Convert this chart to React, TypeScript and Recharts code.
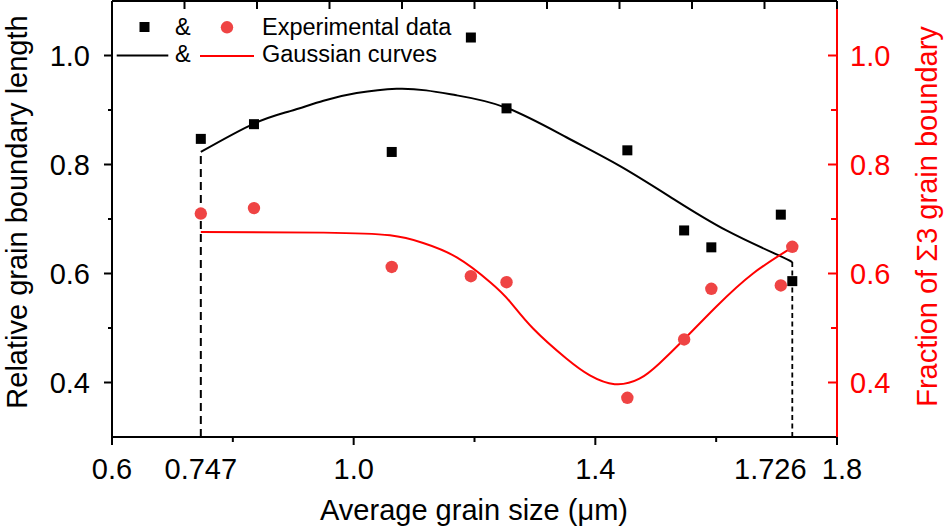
import React from 'react';
import {
  ComposedChart,
  Line,
  Scatter,
  XAxis,
  YAxis,
  Legend,
  Label,
  ReferenceLine,
} from 'recharts';

// measured points (grain size in um)
const grainSize = [0.747, 0.835, 1.063, 1.194, 1.253, 1.453, 1.547, 1.592, 1.707, 1.726];
const relativeLength = [0.847, 0.874, 0.823, 1.033, 0.903, 0.826, 0.679, 0.648, 0.708, 0.586];
const sigma3Fraction = [0.71, 0.72, 0.612, 0.595, 0.584, 0.372, 0.479, 0.572, 0.578, 0.649];

// gaussian fit curves, sampled from the figure
const lengthFitX = [0.747, 0.835, 0.895, 0.95, 1.005, 1.071, 1.12, 1.17, 1.253, 1.352, 1.441, 1.529, 1.617, 1.7, 1.726];
const lengthFitY = [0.823, 0.875, 0.898, 0.917, 0.931, 0.939, 0.936, 0.927, 0.904, 0.85, 0.797, 0.737, 0.679, 0.635, 0.621];
const fractionFitX = [0.747, 0.95, 1.06, 1.115, 1.17, 1.226, 1.259, 1.297, 1.352, 1.391, 1.432, 1.473, 1.506, 1.545, 1.6, 1.661, 1.726];
const fractionFitY = [0.676, 0.675, 0.67, 0.656, 0.63, 0.584, 0.548, 0.499, 0.444, 0.413, 0.397, 0.407, 0.435, 0.477, 0.539, 0.6, 0.648];

// limits of the fitted range
const rangeX = [0.747, 1.726];
const rangeTop = [0.823, 0.626];

const bottomTicks = [0.6, 0.747, 0.8, 1.0, 1.2, 1.4, 1.6, 1.726, 1.8];
const bottomLabels = [0.6, 0.747, 1.0, 1.4, 1.726, 1.8];
const bottomMajor = [0.6, 1.0, 1.4, 1.8];
const bottomMinor = [0.8, 1.2, 1.6];
const topTicks = [0.6, 0.72, 0.84, 0.96, 1.08, 1.2, 1.32, 1.44, 1.56, 1.68, 1.8];
const yTicks = [0.3, 0.4, 0.5, 0.6, 0.7, 0.8, 0.9, 1.0, 1.1];
const yLabels = [0.4, 0.6, 0.8, 1.0];
const yMinor = [0.5, 0.7, 0.9];

const FONT = '"Liberation Sans", Arial, Helvetica, sans-serif';
const RED = '#ff0000';
const DOT_RED = '#ef4444';

const has = (list: number[], v: number) => list.some((d) => Math.abs(d - v) < 1e-6);

const lengthPoints = grainSize.map((x, i) => ({ x, y: relativeLength[i] }));
const fractionPoints = grainSize.map((x, i) => ({ x, y: sigma3Fraction[i] }));
const lengthFit = lengthFitX.map((x, i) => ({ x, y: lengthFitY[i] }));
const fractionFit = fractionFitX.map((x, i) => ({ x, y: fractionFitY[i] }));

const BottomTick = ({ x, y, payload }: any) => {
  const v = payload.value;
  const len = has(bottomMajor, v) ? 8 : has(bottomMinor, v) ? 5 : 0;
  const dx = Math.abs(v - 1.726) < 1e-6 ? -22 : Math.abs(v - 1.8) < 1e-6 ? 5 : 0;
  return (
    <g>
      {len > 0 && <line x1={x} x2={x} y1={y} y2={y + len} stroke="#000" strokeWidth={2} />}
      {has(bottomLabels, v) && (
        <text x={x + dx} y={y + 41.5} textAnchor="middle" fontSize={29} fontFamily={FONT} fill="#000">
          {String(v).length === 1 ? v.toFixed(1) : String(v)}
        </text>
      )}
    </g>
  );
};

const TopTick = ({ x, y }: any) => (
  <line x1={x} x2={x} y1={y} y2={y + 8} stroke="#000" strokeWidth={2} />
);

const LeftTick = ({ x, y, payload }: any) => {
  const v = payload.value;
  const len = has(yLabels, v) ? 8 : has(yMinor, v) ? 4 : 0;
  return (
    <g>
      {len > 0 && <line x1={x} x2={x - len} y1={y} y2={y} stroke="#000" strokeWidth={2} />}
      {has(yLabels, v) && (
        <text x={x - 22} y={y} dy="0.36em" textAnchor="end" fontSize={29} fontFamily={FONT} fill="#000">
          {v.toFixed(1)}
        </text>
      )}
    </g>
  );
};

const RightTick = ({ x, y, payload }: any) => {
  const v = payload.value;
  const len = has(yLabels, v) ? 9 : has(yMinor, v) ? 6 : 0;
  return (
    <g>
      {len > 0 && <line x1={x} x2={x - len} y1={y} y2={y} stroke={RED} strokeWidth={2} />}
      {has(yLabels, v) && (
        <text x={x + 13} y={y} dy="0.36em" textAnchor="start" fontSize={29} fontFamily={FONT} fill={RED}>
          {v.toFixed(1)}
        </text>
      )}
    </g>
  );
};

const Square = ({ cx, cy }: any) => <rect x={cx - 5} y={cy - 5} width={10} height={10} fill="#000" />;
const Dot = ({ cx, cy }: any) => <circle cx={cx} cy={cy} r={6.2} fill={DOT_RED} />;

const renderLegend = () => (
  <svg width={460} height={75} style={{ display: 'block' }} fontFamily={FONT} fontSize={23.5}>
    <rect x={139.5} y={22} width={10} height={10} fill="#000" />
    <text x={175} y={35} fill="#000">{'&'}</text>
    <circle cx={227} cy={27.3} r={6.2} fill={DOT_RED} />
    <text x={262} y={35} fill="#000">Experimental data</text>
    <line x1={116.7} x2={168.3} y1={55.5} y2={55.5} stroke="#000" strokeWidth={2} />
    <text x={175} y={61.7} fill="#000">{'&'}</text>
    <line x1={200} x2={254} y1={56} y2={56} stroke={RED} strokeWidth={2} />
    <text x={262} y={61.7} fill="#000">Gaussian curves</text>
  </svg>
);

const XTitle = () => (
  <text x={474} y={520} textAnchor="middle" fontSize={29} fontFamily={FONT} fill="#000">
    Average grain size (μm)
  </text>
);

const LeftTitle = () => (
  <text x={27} y={212} transform="rotate(-90, 27, 212)" textAnchor="middle" fontSize={29} fontFamily={FONT} fill="#000">
    Relative grain boundary length
  </text>
);

const RightTitle = () => (
  <text x={937} y={216.5} transform="rotate(-90, 937, 216.5)" textAnchor="middle" fontSize={29} fontFamily={FONT} fill={RED}>
    Fraction of Σ3 grain boundary
  </text>
);

export default function App() {
  return (
    <div style={{ position: 'absolute', left: 0, top: 0, width: 944, height: 527, background: '#fff' }}>
      <ComposedChart width={944} height={527} margin={{ top: 0, right: 0, bottom: 0, left: 0 }}>
        <XAxis
          dataKey="x"
          type="number"
          domain={[0.6, 1.8]}
          allowDataOverflow
          ticks={bottomTicks}
          interval={0}
          height={90}
          tickSize={0}
          tickMargin={0}
          tickLine={false}
          tick={<BottomTick />}
          axisLine={{ stroke: '#000', strokeWidth: 2 }}
        >
          <Label content={<XTitle />} />
        </XAxis>
        <XAxis
          xAxisId="top"
          orientation="top"
          dataKey="x"
          type="number"
          domain={[0.6, 1.8]}
          allowDataOverflow
          ticks={topTicks}
          interval={0}
          height={1}
          tickSize={0}
          tickMargin={0}
          tickLine={false}
          tick={<TopTick />}
          axisLine={{ stroke: '#000', strokeWidth: 2 }}
        />
        <YAxis
          yAxisId="left"
          orientation="left"
          type="number"
          domain={[0.3, 1.1]}
          allowDataOverflow
          ticks={yTicks}
          interval={0}
          width={112}
          tickSize={0}
          tickMargin={0}
          tickLine={false}
          tick={<LeftTick />}
          axisLine={{ stroke: '#000', strokeWidth: 2 }}
        >
          <Label content={<LeftTitle />} />
        </YAxis>
        <YAxis
          yAxisId="right"
          orientation="right"
          type="number"
          domain={[0.3, 1.1]}
          allowDataOverflow
          ticks={yTicks}
          interval={0}
          width={107}
          tickSize={0}
          tickMargin={0}
          tickLine={false}
          tick={<RightTick />}
          axisLine={{ stroke: RED, strokeWidth: 2 }}
        >
          <Label content={<RightTitle />} />
        </YAxis>

        <ReferenceLine
          yAxisId="left"
          segment={[{ x: rangeX[0], y: 0.3 }, { x: rangeX[0], y: rangeTop[0] }]}
          stroke="#000"
          strokeWidth={2}
          strokeDasharray="8 5"
        />
        <ReferenceLine
          yAxisId="left"
          segment={[{ x: rangeX[1], y: 0.3 }, { x: rangeX[1], y: rangeTop[1] }]}
          stroke="#000"
          strokeWidth={1.8}
          strokeDasharray="5 3.5"
        />

        <Line
          yAxisId="left"
          data={lengthFit}
          dataKey="y"
          type="natural"
          stroke="#000"
          strokeWidth={2}
          dot={false}
          activeDot={false}
          isAnimationActive={false}
        />
        <Line
          yAxisId="right"
          data={fractionFit}
          dataKey="y"
          type="natural"
          stroke={RED}
          strokeWidth={2}
          dot={false}
          activeDot={false}
          isAnimationActive={false}
        />
        <Scatter yAxisId="left" data={lengthPoints} dataKey="y" shape={<Square />} isAnimationActive={false} />
        <Scatter yAxisId="right" data={fractionPoints} dataKey="y" shape={<Dot />} isAnimationActive={false} />

        <Legend
          content={renderLegend}
          layout="vertical"
          verticalAlign="middle"
          align="center"
          wrapperStyle={{ left: 0, top: 0, width: 460, height: 75 }}
        />
      </ComposedChart>
    </div>
  );
}
